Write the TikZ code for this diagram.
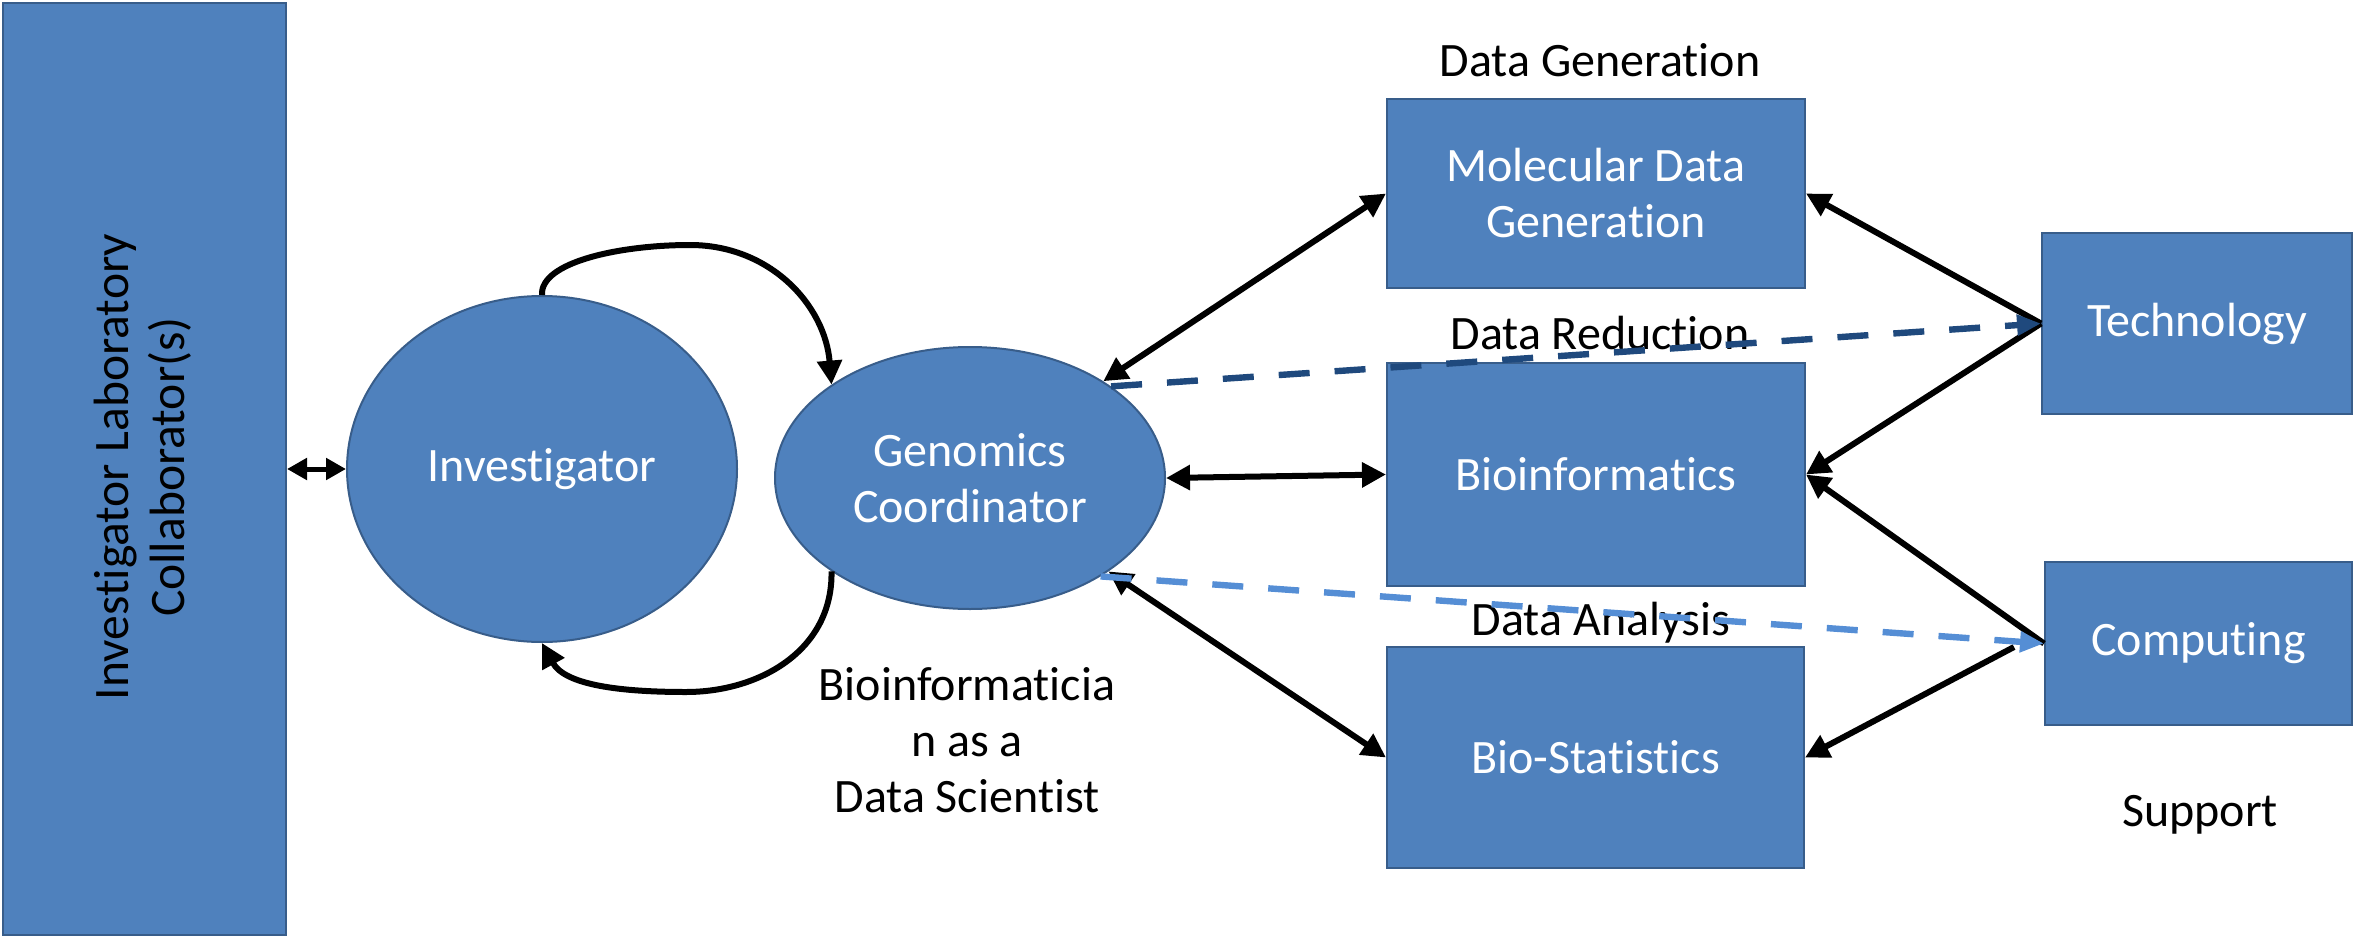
\documentclass[tikz,border=0pt]{standalone}
\usepackage{fontspec}
\setmainfont{Carlito}[Ligatures=NoCommon]
\usetikzlibrary{arrows.meta,shapes.geometric}
\definecolor{boxfill}{HTML}{4F81BD}
\definecolor{boxline}{HTML}{385D8A}
\definecolor{darkdash}{HTML}{1F497D}
\definecolor{lightdash}{HTML}{558ED5}
\begin{document}
\begin{tikzpicture}[x=0.5pt,y=-0.5pt,
  every node/.style={font=\fontsize{24}{28}\selectfont},
  blockbox/.style={draw=boxline, fill=boxfill, line width=1pt, text=white, inner sep=0pt, align=center},
  ovalnode/.style={ellipse, draw=boxline, fill=boxfill, line width=1pt, text=white, inner sep=0pt, align=center},
  plainlabel/.style={text=black, inner sep=0pt, align=center},
  link/.style={line width=3pt, draw=black, line cap=butt, arrows={-Triangle[length=12pt,width=12pt]}},
  twoway/.style={line width=3pt, draw=black, arrows={Triangle[length=12pt,width=12pt]-Triangle[length=12pt,width=12pt]}},
  smalltwoway/.style={line width=2.5pt, draw=black, arrows={Triangle[length=10pt,width=10.5pt]-Triangle[length=10pt,width=10.5pt]}},
  darkdashed/.style={line width=3.2pt, draw=darkdash, dash pattern=on 15.5pt off 12.5pt, arrows={-Triangle[length=12pt,width=10pt]}},
  lightdashed/.style={line width=3.2pt, draw=lightdash, dash pattern=on 15.5pt off 12.5pt, arrows={-Triangle[length=12pt,width=10pt]}}
]
\useasboundingbox (0,0) rectangle (2356,937);

% left rectangle
\node[blockbox, minimum width=141.5pt, minimum height=466pt] (lab) at (144.5,469) {};
\node[plainlabel, rotate=90, font=\fontsize{24.8}{28}\selectfont] (labtext) at (143,467) {Investigator Laboratory\\Collaborator(s)};

% ellipses
\node[ovalnode, minimum width=195pt, minimum height=173pt] (inv) at (542,469) {Investigator};
\node[ovalnode, minimum width=195pt, minimum height=131pt] (coord) at (970,478) {Genomics\\Coordinator};

% boxes
\node[blockbox, minimum width=209pt, minimum height=94.5pt] (mol) at (1596,193.5) {Molecular Data\\Generation};
\node[blockbox, minimum width=209pt, minimum height=111.5pt] (bio) at (1596,474.5) {Bioinformatics};
\node[blockbox, minimum width=208.5pt, minimum height=110.5pt] (stat) at (1595.5,757.5) {Bio-Statistics};
\node[blockbox, minimum width=155pt, minimum height=90.5pt] (tech) at (2197,323.5) {Technology};
\node[blockbox, minimum width=153.5pt, minimum height=81.5pt] (comp) at (2198.5,643.5) {Computing};

% labels
\node[plainlabel] (lgen) at (1600,60) {Data Generation};
\node[plainlabel] (lred) at (1600,333) {Data Reduction};
\node[plainlabel] (lana) at (1601,623) {Data Analysis};
\node[plainlabel] (lsup) at (2200,815) {Support};
\node[plainlabel] (lbio) at (967,740) {Bioinformaticia\\n as a\\Data Scientist};

% connectors
\draw[smalltwoway] (lab.east) -- (inv.west);
\draw[link] (inv.north) .. controls (540,262) and (620,245) .. (690,245) .. controls (770,245) and (825,305) .. (coord.146);
\draw[link] (coord.214) .. controls (833,650) and (760,692) .. (686,692) .. controls (620,692) and (565,685) .. (inv.south);

\draw[twoway] (coord.36) -- (mol.west);
\draw[twoway] (coord.east) -- (bio.west);
\draw[twoway] (coord.-34) -- (stat.west);

\draw[link] (tech.west) -- (mol.east);
\draw[link] (tech.west) -- (bio.east);
\draw[link] (comp.west) -- (bio.east);
\coordinate (compgap) at (2014,647);
\draw[link] (compgap) -- (stat.east);

\draw[darkdashed] (coord.33) -- (tech.west);
\draw[lightdashed] (coord.-37) -- (comp.west);
\end{tikzpicture}
\end{document}
